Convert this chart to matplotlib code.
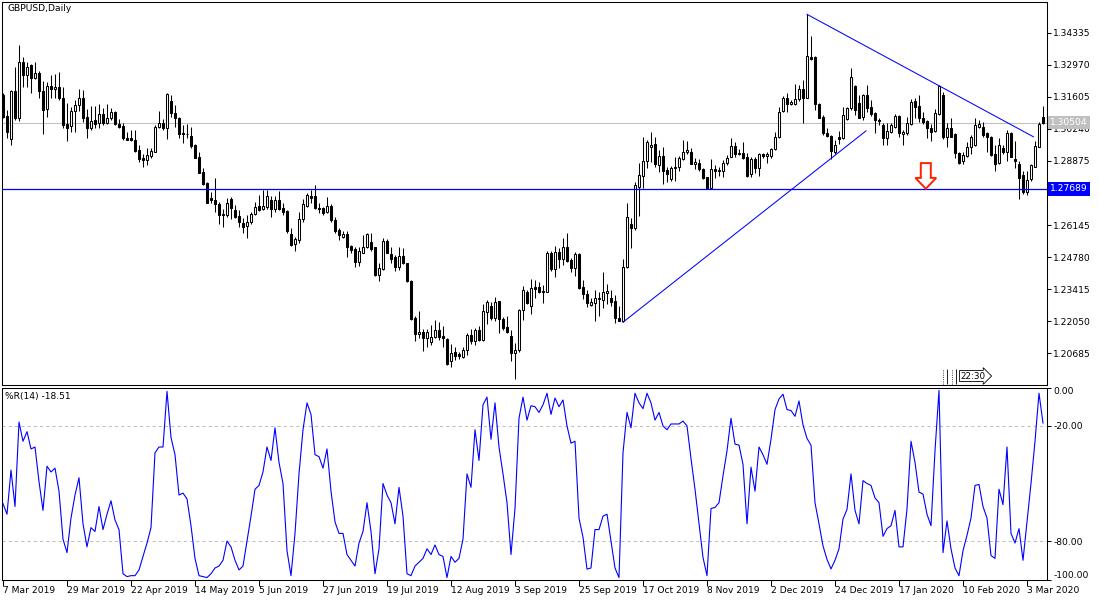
import numpy as np
import matplotlib.pyplot as plt
from matplotlib.patches import Polygon
from matplotlib.transforms import blended_transform_factory

plt.rcParams['font.family'] = ['DejaVu Sans']
plt.rcParams['font.size'] = 6.6

# GBPUSD daily candles, 7 Mar 2019 .. 9 Mar 2020
opens = [
    1.3168, 1.3078, 1.2979, 1.3185, 1.3068, 1.3307, 1.3253, 1.3295, 1.3239, 1.3263,
    1.3185, 1.3107, 1.3206, 1.3193, 1.3202, 1.3154, 1.3046, 1.3036, 1.3100, 1.3125,
    1.3154, 1.3074, 1.3029, 1.3060, 1.3047, 1.3087, 1.3050, 1.3068, 1.3095, 1.3046,
    1.3036, 1.2986, 1.2983, 1.2976, 1.2934, 1.2898, 1.2893, 1.2910, 1.2927, 1.3032,
    1.3050, 1.3029, 1.3142, 1.3092, 1.3068, 1.3008, 1.3003, 1.2993, 1.2955, 1.2903,
    1.2840, 1.2792, 1.2731, 1.2721, 1.2704, 1.2661, 1.2657, 1.2725, 1.2679, 1.2653,
    1.2622, 1.2609, 1.2626, 1.2660, 1.2697, 1.2682, 1.2690, 1.2719, 1.2683, 1.2721,
    1.2686, 1.2675, 1.2575, 1.2534, 1.2551, 1.2639, 1.2697, 1.2738, 1.2738, 1.2686,
    1.2686, 1.2672, 1.2696, 1.2636, 1.2594, 1.2565, 1.2575, 1.2526, 1.2513, 1.2459,
    1.2497, 1.2519, 1.2541, 1.2519, 1.2402, 1.2428, 1.2547, 1.2492, 1.2477, 1.2438,
    1.2483, 1.2452, 1.2377, 1.2218, 1.2150, 1.2158, 1.2133, 1.2116, 1.2140, 1.2168,
    1.2144, 1.2130, 1.2038, 1.2075, 1.2065, 1.2055, 1.2083, 1.2147, 1.2123, 1.2168,
    1.2126, 1.2245, 1.2270, 1.2218, 1.2292, 1.2214, 1.2182, 1.2144, 1.2069, 1.2082,
    1.2253, 1.2328, 1.2270, 1.2350, 1.2350, 1.2334, 1.2331, 1.2494, 1.2426, 1.2498,
    1.2469, 1.2520, 1.2466, 1.2430, 1.2491, 1.2350, 1.2320, 1.2274, 1.2284, 1.2300,
    1.2296, 1.2324, 1.2303, 1.2291, 1.2221, 1.2206, 1.2435, 1.2619, 1.2603, 1.2778,
    1.2825, 1.2887, 1.2945, 1.2958, 1.2870, 1.2908, 1.2849, 1.2811, 1.2856, 1.2860,
    1.2896, 1.2924, 1.2927, 1.2876, 1.2879, 1.2853, 1.2817, 1.2771, 1.2853, 1.2845,
    1.2846, 1.2877, 1.2905, 1.2951, 1.2917, 1.2920, 1.2905, 1.2830, 1.2896, 1.2859,
    1.2915, 1.2908, 1.2908, 1.2938, 1.2988, 1.3100, 1.3157, 1.3130, 1.3130, 1.3149,
    1.3193, 1.3157, 1.3331, 1.3331, 1.3130, 1.3076, 1.3008, 1.2994, 1.2927, 1.2988,
    1.2984, 1.3066, 1.3111, 1.3206, 1.3132, 1.3076, 1.3168, 1.3117, 1.3090, 1.3062,
    1.3038, 1.2984, 1.3012, 1.3033, 1.3079, 1.3001, 1.3005, 1.3043, 1.3142, 1.3121,
    1.3072, 1.3059, 1.3029, 1.3015, 1.3087, 1.3168, 1.2991, 1.3029, 1.3001, 1.2923,
    1.2885, 1.2909, 1.2945, 1.2955, 1.3033, 1.3030, 1.3005, 1.2991, 1.2917, 1.2877,
    1.2941, 1.2927, 1.3005, 1.2895, 1.2876, 1.2828, 1.2755, 1.2811, 1.2863, 1.2948,
    1.3073]
highs = [
    1.3175, 1.3104, 1.3189, 1.3288, 1.3380, 1.3331, 1.3310, 1.3298, 1.3310, 1.3270,
    1.3227, 1.3224, 1.3253, 1.3256, 1.3267, 1.3203, 1.3132, 1.3115, 1.3146, 1.3193,
    1.3189, 1.3108, 1.3122, 1.3122, 1.3128, 1.3111, 1.3128, 1.3114, 1.3100, 1.3066,
    1.3047, 1.3009, 1.3019, 1.3019, 1.2955, 1.2915, 1.2941, 1.2944, 1.3040, 1.3101,
    1.3064, 1.3176, 1.3168, 1.3125, 1.3076, 1.3040, 1.3043, 1.3033, 1.2958, 1.2924,
    1.2856, 1.2799, 1.2756, 1.2813, 1.2711, 1.2681, 1.2731, 1.2735, 1.2700, 1.2679,
    1.2643, 1.2657, 1.2671, 1.2714, 1.2742, 1.2764, 1.2764, 1.2736, 1.2736, 1.2760,
    1.2707, 1.2679, 1.2601, 1.2565, 1.2672, 1.2724, 1.2750, 1.2764, 1.2785, 1.2707,
    1.2693, 1.2733, 1.2704, 1.2650, 1.2601, 1.2589, 1.2589, 1.2530, 1.2523, 1.2520,
    1.2572, 1.2582, 1.2580, 1.2523, 1.2452, 1.2558, 1.2554, 1.2523, 1.2487, 1.2520,
    1.2516, 1.2455, 1.2381, 1.2228, 1.2249, 1.2171, 1.2171, 1.2190, 1.2211, 1.2200,
    1.2185, 1.2133, 1.2109, 1.2097, 1.2076, 1.2097, 1.2154, 1.2171, 1.2178, 1.2183,
    1.2278, 1.2296, 1.2285, 1.2310, 1.2292, 1.2225, 1.2229, 1.2168, 1.2112, 1.2259,
    1.2357, 1.2338, 1.2385, 1.2381, 1.2371, 1.2359, 1.2504, 1.2506, 1.2527, 1.2516,
    1.2558, 1.2580, 1.2473, 1.2501, 1.2494, 1.2381, 1.2338, 1.2303, 1.2338, 1.2331,
    1.2416, 1.2362, 1.2338, 1.2317, 1.2270, 1.2470, 1.2710, 1.2643, 1.2799, 1.2880,
    1.2991, 1.2976, 1.3012, 1.2991, 1.2934, 1.2948, 1.2863, 1.2866, 1.2903, 1.2910,
    1.2976, 1.2972, 1.2944, 1.2901, 1.2896, 1.2856, 1.2820, 1.2894, 1.2870, 1.2860,
    1.2891, 1.2913, 1.2983, 1.2969, 1.2937, 1.2969, 1.2920, 1.2905, 1.2905, 1.2923,
    1.2920, 1.2927, 1.2944, 1.3012, 1.3118, 1.3165, 1.3175, 1.3147, 1.3215, 1.3210,
    1.3232, 1.3511, 1.3419, 1.3334, 1.3132, 1.3083, 1.3029, 1.2998, 1.2977, 1.3015,
    1.3118, 1.3118, 1.3284, 1.3210, 1.3168, 1.3172, 1.3210, 1.3147, 1.3094, 1.3069,
    1.3048, 1.3048, 1.3048, 1.3086, 1.3083, 1.3019, 1.3076, 1.3151, 1.3154, 1.3168,
    1.3094, 1.3062, 1.3043, 1.3107, 1.3210, 1.3179, 1.3048, 1.3069, 1.3005, 1.2927,
    1.2927, 1.2967, 1.2998, 1.3069, 1.3062, 1.3052, 1.3012, 1.2994, 1.2955, 1.2984,
    1.2955, 1.3019, 1.3012, 1.2970, 1.2885, 1.2845, 1.2846, 1.2873, 1.2972, 1.3055,
    1.3121]
lows = [
    1.3068, 1.2986, 1.2955, 1.3061, 1.3057, 1.3203, 1.3203, 1.3178, 1.3237, 1.3154,
    1.3000, 1.3076, 1.3154, 1.3154, 1.3146, 1.3029, 1.2973, 1.3009, 1.3009, 1.3100,
    1.3054, 1.2983, 1.3019, 1.3026, 1.3029, 1.3040, 1.3046, 1.3061, 1.3040, 1.3026,
    1.2978, 1.2975, 1.2972, 1.2927, 1.2884, 1.2863, 1.2870, 1.2901, 1.2924, 1.3026,
    1.3019, 1.2980, 1.3076, 1.3033, 1.2983, 1.2965, 1.2983, 1.2944, 1.2898, 1.2834,
    1.2785, 1.2707, 1.2707, 1.2671, 1.2620, 1.2605, 1.2650, 1.2640, 1.2646, 1.2605,
    1.2579, 1.2558, 1.2617, 1.2657, 1.2674, 1.2679, 1.2682, 1.2650, 1.2672, 1.2679,
    1.2658, 1.2580, 1.2526, 1.2502, 1.2540, 1.2629, 1.2693, 1.2707, 1.2682, 1.2665,
    1.2658, 1.2665, 1.2629, 1.2582, 1.2551, 1.2561, 1.2480, 1.2495, 1.2438, 1.2441,
    1.2494, 1.2516, 1.2506, 1.2398, 1.2377, 1.2424, 1.2494, 1.2455, 1.2417, 1.2424,
    1.2449, 1.2373, 1.2211, 1.2119, 1.2133, 1.2080, 1.2097, 1.2102, 1.2133, 1.2126,
    1.2097, 1.2019, 1.2012, 1.2041, 1.2044, 1.2048, 1.2062, 1.2109, 1.2105, 1.2119,
    1.2123, 1.2192, 1.2211, 1.2204, 1.2154, 1.2168, 1.2154, 1.2034, 1.1958, 1.2076,
    1.2211, 1.2277, 1.2235, 1.2306, 1.2324, 1.2281, 1.2328, 1.2419, 1.2392, 1.2430,
    1.2445, 1.2456, 1.2416, 1.2399, 1.2342, 1.2300, 1.2267, 1.2272, 1.2206, 1.2228,
    1.2263, 1.2279, 1.2272, 1.2196, 1.2204, 1.2201, 1.2430, 1.2516, 1.2594, 1.2655,
    1.2771, 1.2856, 1.2884, 1.2863, 1.2842, 1.2789, 1.2799, 1.2802, 1.2803, 1.2846,
    1.2891, 1.2915, 1.2873, 1.2852, 1.2846, 1.2810, 1.2768, 1.2768, 1.2813, 1.2823,
    1.2820, 1.2870, 1.2905, 1.2905, 1.2913, 1.2896, 1.2820, 1.2820, 1.2835, 1.2825,
    1.2901, 1.2877, 1.2898, 1.2933, 1.2983, 1.3097, 1.3097, 1.3125, 1.3125, 1.3142,
    1.3048, 1.3154, 1.3318, 1.3104, 1.3069, 1.2998, 1.2991, 1.2896, 1.2917, 1.2958,
    1.2981, 1.3062, 1.3104, 1.3083, 1.3069, 1.3062, 1.3094, 1.3080, 1.3008, 1.3041,
    1.2955, 1.2955, 1.3005, 1.3029, 1.2991, 1.2955, 1.2998, 1.3041, 1.3069, 1.3052,
    1.3043, 1.2984, 1.2972, 1.3012, 1.3083, 1.2981, 1.2948, 1.2987, 1.2899, 1.2873,
    1.2873, 1.2906, 1.2916, 1.2951, 1.3029, 1.2991, 1.2927, 1.2910, 1.2846, 1.2875,
    1.2917, 1.2885, 1.2902, 1.2856, 1.2724, 1.2745, 1.2743, 1.2800, 1.2860, 1.2945,
    1.3043]
closes = [
    1.3076, 1.3012, 1.3185, 1.3068, 1.3307, 1.3253, 1.3288, 1.3239, 1.3260, 1.3185,
    1.3104, 1.3206, 1.3193, 1.3202, 1.3154, 1.3040, 1.3026, 1.3100, 1.3125, 1.3154,
    1.3071, 1.3029, 1.3057, 1.3046, 1.3087, 1.3047, 1.3070, 1.3095, 1.3043, 1.3032,
    1.2983, 1.2978, 1.2976, 1.2931, 1.2895, 1.2893, 1.2911, 1.2930, 1.3032, 1.3050,
    1.3029, 1.3172, 1.3092, 1.3071, 1.3000, 1.3003, 1.3000, 1.2952, 1.2901, 1.2837,
    1.2790, 1.2710, 1.2720, 1.2704, 1.2657, 1.2657, 1.2707, 1.2686, 1.2650, 1.2626,
    1.2605, 1.2629, 1.2660, 1.2693, 1.2678, 1.2696, 1.2736, 1.2683, 1.2721, 1.2683,
    1.2672, 1.2587, 1.2530, 1.2555, 1.2639, 1.2704, 1.2743, 1.2731, 1.2686, 1.2682,
    1.2665, 1.2696, 1.2636, 1.2589, 1.2570, 1.2577, 1.2519, 1.2509, 1.2459, 1.2502,
    1.2520, 1.2577, 1.2513, 1.2402, 1.2432, 1.2547, 1.2497, 1.2470, 1.2438, 1.2483,
    1.2452, 1.2377, 1.2215, 1.2150, 1.2158, 1.2133, 1.2158, 1.2140, 1.2168, 1.2140,
    1.2133, 1.2022, 1.2072, 1.2059, 1.2058, 1.2083, 1.2147, 1.2123, 1.2168, 1.2126,
    1.2249, 1.2285, 1.2218, 1.2289, 1.2215, 1.2178, 1.2161, 1.2069, 1.2082, 1.2253,
    1.2339, 1.2284, 1.2345, 1.2342, 1.2328, 1.2328, 1.2494, 1.2426, 1.2498, 1.2469,
    1.2520, 1.2463, 1.2433, 1.2491, 1.2348, 1.2320, 1.2284, 1.2286, 1.2303, 1.2306,
    1.2328, 1.2334, 1.2289, 1.2218, 1.2206, 1.2435, 1.2648, 1.2603, 1.2785, 1.2828,
    1.2887, 1.2969, 1.2955, 1.2873, 1.2908, 1.2846, 1.2830, 1.2856, 1.2860, 1.2898,
    1.2927, 1.2934, 1.2874, 1.2881, 1.2852, 1.2813, 1.2771, 1.2852, 1.2845, 1.2849,
    1.2877, 1.2901, 1.2951, 1.2917, 1.2920, 1.2901, 1.2823, 1.2896, 1.2859, 1.2917,
    1.2908, 1.2915, 1.2938, 1.2988, 1.3097, 1.3154, 1.3130, 1.3140, 1.3149, 1.3193,
    1.3157, 1.3334, 1.3321, 1.3130, 1.3072, 1.3005, 1.2994, 1.2931, 1.2955, 1.2981,
    1.3083, 1.3111, 1.3246, 1.3104, 1.3072, 1.3168, 1.3114, 1.3086, 1.3062, 1.3058,
    1.2984, 1.3016, 1.3038, 1.3080, 1.3008, 1.3009, 1.3048, 1.3140, 1.3118, 1.3072,
    1.3052, 1.3029, 1.3012, 1.3090, 1.3206, 1.2987, 1.3026, 1.2991, 1.2923, 1.2880,
    1.2913, 1.2948, 1.2987, 1.3041, 1.3045, 1.2998, 1.2991, 1.2913, 1.2875, 1.2955,
    1.2927, 1.3005, 1.2906, 1.2885, 1.2814, 1.2755, 1.2807, 1.2868, 1.2951, 1.3045,
    1.3050]

# Williams %R(14) as drawn in the lower window
wpr = [
    -60.5, -66, -43, -62, -18, -28, -23, -32, -31, -49,
    -64, -41, -44, -42, -54, -79, -86, -68, -56, -47,
    -71, -83, -73, -75, -62, -74, -66, -59, -69, -74,
    -97, -98.5, -98, -98, -95, -88, -81, -73, -34, -31,
    -31, -2, -26, -35, -56, -55, -58, -72, -89, -98,
    -98.5, -99, -97, -94, -93, -90, -80, -83, -90, -95,
    -93, -80, -67, -53, -51, -44, -31, -38, -21, -39,
    -50, -85, -98, -76, -45, -22, -8, -14, -35, -36,
    -42, -32, -54, -70, -76, -76, -87, -90, -93, -81,
    -75, -60, -75, -97, -84, -50, -56, -60, -71, -52,
    -67, -97, -98, -93, -91, -89, -84, -87, -82, -87,
    -88, -99, -88, -91, -89, -79, -45, -52, -22, -38,
    -9, -5, -27, -8, -31, -45, -60, -87, -63, -16,
    -5, -17, -9.5, -10, -13, -9, -3, -14, -5.5, -10,
    -6.5, -20, -29, -28, -68, -78, -94.6, -94, -74, -74,
    -67, -66, -80, -94, -99, -34, -13, -21, -3, -8,
    -11, -3, -8, -17, -13, -20, -22, -19, -19, -19,
    -17.5, -20, -37, -53, -71, -88.5, -98, -63, -62.5, -60,
    -46, -33, -16, -29.5, -30, -40, -71, -41.5, -54, -31,
    -35, -40, -27, -11.5, -6, -3.5, -11.5, -12, -15, -7,
    -19.5, -26.5, -30, -60, -71, -82.5, -89.5, -94.5, -90, -84,
    -68.5, -63.5, -45, -64, -71, -48.5, -50, -51, -57.5, -60,
    -77.5, -73.5, -72, -64, -83, -83, -63.3, -28, -39, -54.5,
    -55.5, -66, -72, -33, -1.5, -86, -69.5, -84, -94, -98,
    -85, -77, -68, -51, -50.5, -62, -68, -87.5, -89, -53,
    -61, -31, -76, -81, -73.5, -90, -70, -50, -28, -3,
    -18.51]

date_labels = ["7 Mar 2019", "29 Mar 2019", "22 Apr 2019", "14 May 2019", "5 Jun 2019",
               "27 Jun 2019", "19 Jul 2019", "12 Aug 2019", "3 Sep 2019", "25 Sep 2019",
               "17 Oct 2019", "8 Nov 2019", "2 Dec 2019", "24 Dec 2019", "17 Jan 2020",
               "10 Feb 2020", "3 Mar 2020"]
price_ticks = [1.34335, 1.32970, 1.31605, 1.30240, 1.28875, 1.27510,
               1.26145, 1.24780, 1.23415, 1.22050, 1.20685]
wpr_ticks = [0, -20, -80, -100]
wpr_levels = [-20, -80]

hline_price = 1.27689
bid_price = 1.30504

# analyst objects (bar index, price)
trend_up_bars = [155, 215.75]
trend_up_prices = [1.2201, 1.3015]
trend_down_bars = [201, 257.6]
trend_down_prices = [1.3511, 1.2990]
arrow_bar = 230.7
arrow_top = 1.2878
arrow_neck = 1.2815
clock_bar = 239.4
clock_price = 1.1972
clock_marks = [235.0, 236.1, 237.2, 238.3]

o = np.array(opens)
h = np.array(highs)
l = np.array(lows)
c = np.array(closes)
x = np.arange(len(c))

fig = plt.figure(figsize=(11, 6), dpi=100)
ax = fig.add_axes([2/1100, 215/600, 1045/1100, 383/600])
ax2 = fig.add_axes([2/1100, 20.5/600, 1045/1100, 192/600])

for a in (ax, ax2):
    a.set_xlim(-0.25, 261)
    for s in a.spines.values():
        s.set_linewidth(0.75)
        s.set_color('black')

# main window
ax.set_ylim(1.19338, 1.35635)
ax.axhline(bid_price, color='#c0c0c0', linewidth=0.75, zorder=1)
ax.vlines(x, l, h, color='black', linewidth=0.75, zorder=2)
up = c >= o
ax.bar(x[up], c[up] - o[up], bottom=o[up], width=0.5, color='white',
       edgecolor='black', linewidth=0.75, zorder=3)
ax.bar(x[~up], o[~up] - c[~up], bottom=c[~up], width=0.5, color='black',
       edgecolor='black', linewidth=0.75, zorder=3)
ax.axhline(hline_price, color='#0000ff', linewidth=0.9, zorder=4)
ax.plot(trend_up_bars, trend_up_prices, color='#0000ff', linewidth=0.75, zorder=4)
ax.plot(trend_down_bars, trend_down_prices, color='#0000ff', linewidth=0.75, zorder=4)

arrow = Polygon([(arrow_bar - 1.25, arrow_top), (arrow_bar + 1.25, arrow_top),
                 (arrow_bar + 1.25, arrow_neck), (arrow_bar + 2.6, arrow_neck),
                 (arrow_bar, hline_price), (arrow_bar - 2.6, arrow_neck),
                 (arrow_bar - 1.25, arrow_neck)],
                closed=True, facecolor='white', edgecolor='#ff2200', linewidth=1.4, zorder=5)
ax.add_patch(arrow)

for k, xb in enumerate(clock_marks):
    ax.vlines(xb, 1.1940, 1.2003, color='black', linewidth=0.6,
              linestyles=':' if k % 2 == 0 else '-', zorder=5)
ax.text(clock_bar, clock_price, "22:30", fontsize=6.3, ha='left', va='center', zorder=6,
        bbox=dict(boxstyle='rarrow,pad=0.12', fc='white', ec='black', lw=0.6))

ax.set_xticks([])
ax.yaxis.tick_right()
ax.set_yticks(price_ticks)
ax.set_yticklabels(['%.5f' % p for p in price_ticks])
ax.tick_params(axis='y', direction='out', length=3, width=0.75, pad=1.5, labelsize=6.6)

tr = blended_transform_factory(ax.transAxes, ax.transData)
ax.text(1.003, hline_price, '%.5f' % hline_price, transform=tr, color='white', ha='left',
        va='center', fontsize=6.6, clip_on=False, zorder=10,
        bbox=dict(boxstyle='square,pad=0.25', fc='#0000ff', ec='none'))
ax.text(1.003, bid_price, '%.5f' % bid_price, transform=tr, color='white', ha='left',
        va='center', fontsize=6.6, clip_on=False, zorder=10,
        bbox=dict(boxstyle='square,pad=0.25', fc='#c0c0c0', ec='none'))
ax.text(0.0048, 0.995, "GBPUSD,Daily", transform=ax.transAxes, ha='left', va='top', fontsize=6.6)

# indicator window
ax2.set_ylim(-100, 0)
for lv in wpr_levels:
    ax2.axhline(lv, color='#c0c0c0', linewidth=0.75, linestyle=(0, (3, 3)), zorder=1)
ax2.plot(x, wpr, color='#0000ff', linewidth=0.8, zorder=3)
ax2.yaxis.tick_right()
ax2.set_yticks(wpr_ticks)
ax2.set_yticklabels(['%.2f' % v for v in wpr_ticks])
ax2.tick_params(axis='y', direction='out', length=3, width=0.75, pad=1.5, labelsize=6.6)
ylabs = ax2.get_yticklabels()
ylabs[0].set_verticalalignment('top')
ylabs[-1].set_verticalalignment('bottom')
ax2.set_xticks(x[::16])
ax2.set_xticklabels(date_labels, ha='left')
ax2.tick_params(axis='x', direction='out', length=4, width=0.75, pad=1, labelsize=6.6)
ax2.text(0.003, 0.975, "%%R(14) %.2f" % wpr[-1], transform=ax2.transAxes,
         ha='left', va='top', fontsize=6.6)

fig.savefig("out.png", dpi=100)
